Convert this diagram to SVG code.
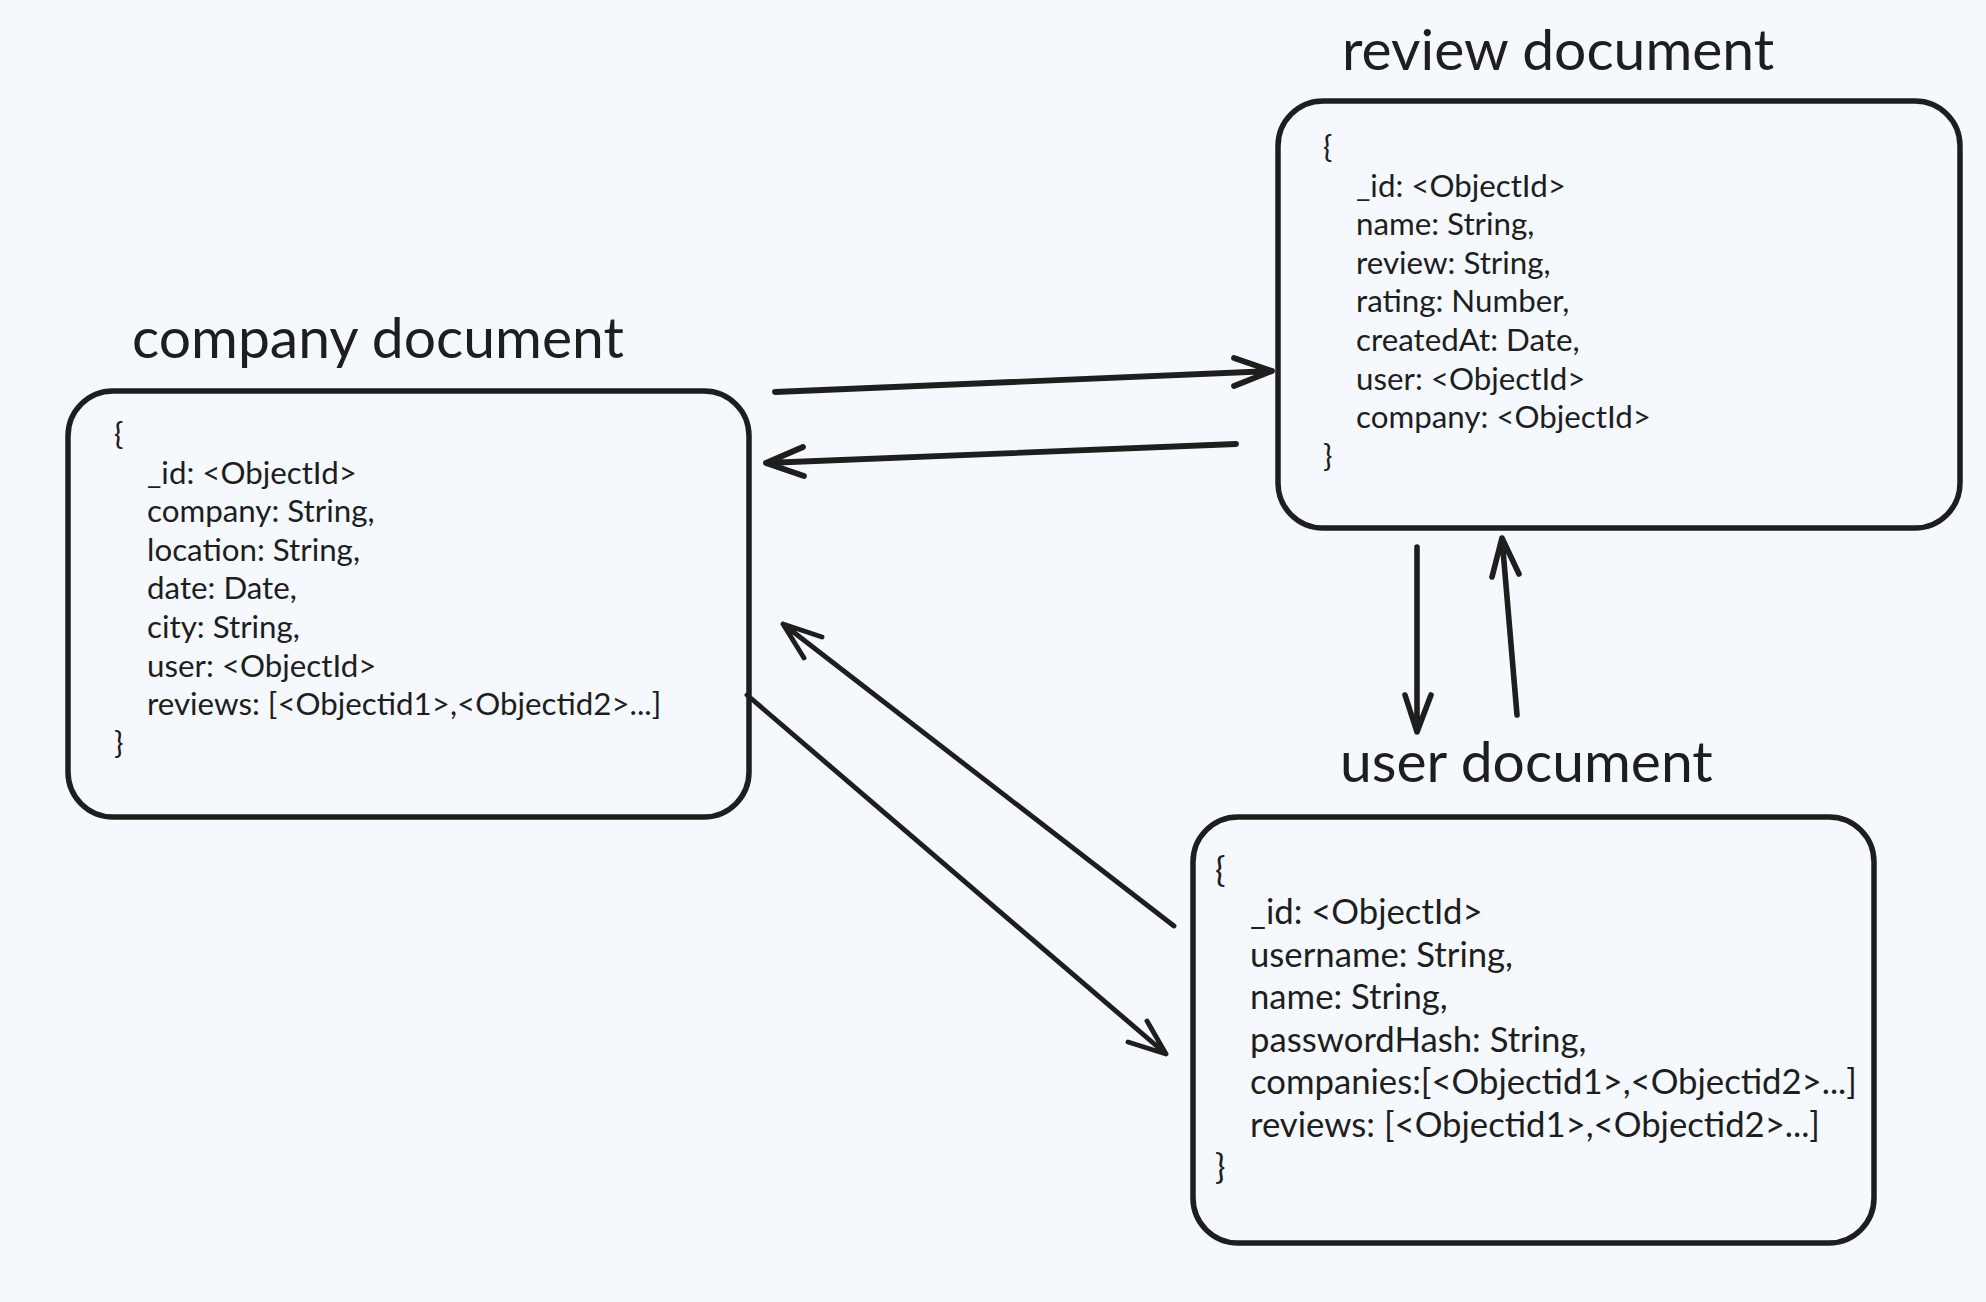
<svg xmlns="http://www.w3.org/2000/svg" width="1986" height="1302" viewBox="0 0 1986 1302">
<style>
.bg{fill:#f5f8fd}
.box{fill:none;stroke:#1e1e1e;stroke-width:5.5}
.title{font-family:Lato,"Noto Sans",sans-serif;font-size:57px;fill:#1e1e1e}
.body{font-family:Lato,"Noto Sans",sans-serif;font-size:31.3px;fill:#1e1e1e}
.ubody{font-family:Lato,"Noto Sans",sans-serif;font-size:34.7px;fill:#1e1e1e}
.conn path{fill:none;stroke:#1e1e1e;stroke-linecap:round;stroke-linejoin:round}
</style>
<rect class="bg" x="0" y="0" width="1986" height="1302"/>
<g id="company">
<text class="title" x="132" y="358">company document</text>
<rect class="box" x="68" y="391" width="681" height="426" rx="45"/>
<text class="body" x="114" y="445">{</text>
<text class="body" x="147" y="483.6">_id: &lt;ObjectId&gt;</text>
<text class="body" x="147" y="522.2">company: String,</text>
<text class="body" x="147" y="560.8">location: String,</text>
<text class="body" x="147" y="599.4">date: Date,</text>
<text class="body" x="147" y="638">city: String,</text>
<text class="body" x="147" y="676.6">user: &lt;ObjectId&gt;</text>
<text class="body" x="147" y="715.2">reviews: [&lt;Objectid1&gt;,&lt;Objectid2&gt;...]</text>
<text class="body" x="114" y="753.8">}</text>
</g>
<g id="review">
<text class="title" x="1342" y="70">review document</text>
<rect class="box" x="1278" y="101" width="682" height="427" rx="45"/>
<text class="body" x="1323" y="158">{</text>
<text class="body" x="1356" y="196.6">_id: &lt;ObjectId&gt;</text>
<text class="body" x="1356" y="235.2">name: String,</text>
<text class="body" x="1356" y="273.8">review: String,</text>
<text class="body" x="1356" y="312.4">rating: Number,</text>
<text class="body" x="1356" y="351">createdAt: Date,</text>
<text class="body" x="1356" y="389.6">user: &lt;ObjectId&gt;</text>
<text class="body" x="1356" y="428.2">company: &lt;ObjectId&gt;</text>
<text class="body" x="1323" y="466.8">}</text>
</g>
<g id="user">
<text class="title" x="1340" y="782">user document</text>
<rect class="box" x="1193" y="817" width="681" height="426" rx="45"/>
<text class="ubody" x="1215" y="882">{</text>
<text class="ubody" x="1250" y="924">_id: &lt;ObjectId&gt;</text>
<text class="ubody" x="1250" y="966.5">username: String,</text>
<text class="ubody" x="1250" y="1009">name: String,</text>
<text class="ubody" x="1250" y="1051.5">passwordHash: String,</text>
<text class="ubody" x="1250" y="1094">companies:[&lt;Objectid1&gt;,&lt;Objectid2&gt;...]</text>
<text class="ubody" x="1250" y="1136.5">reviews: [&lt;Objectid1&gt;,&lt;Objectid2&gt;...]</text>
<text class="ubody" x="1215" y="1179">}</text>
</g>
<g id="connectors" class="conn">
<path stroke-width="5.8" d="M775 392 L1272 371 M1234 358 L1272 371 L1234 386"/>
<path stroke-width="5.8" d="M1236 444 L766 463 M803 447 L766 463 L804 476"/>
<path stroke-width="4.9" d="M1174 926 L783 624 M822 637 L783 624 L804 658"/>
<path stroke-width="4.9" d="M747 695 L1166 1054 M1147 1021 L1166 1054 L1128 1042"/>
<path stroke-width="5.6" d="M1417 547 L1417 732 M1405 695 L1417 732 L1431 695"/>
<path stroke-width="5.6" d="M1517 715 L1502 538 M1492 577 L1502 538 L1519 574"/>
</g>
</svg>
